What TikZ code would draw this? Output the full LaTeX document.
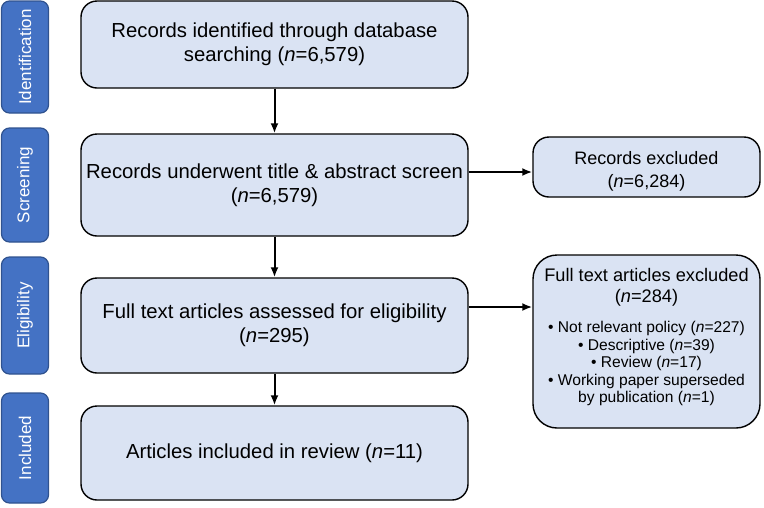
\documentclass[tikz,border=0pt]{standalone}
\usepackage{fontspec}
\setmainfont{Liberation Sans}
\usetikzlibrary{arrows.meta}
\definecolor{boxfill}{HTML}{DAE3F3}
\definecolor{stagefill}{HTML}{4472C4}
\definecolor{stageline}{HTML}{2F528F}
\tikzstyle{stage}=[draw=stageline, line width=1.2pt, fill=stagefill, text=white, rounded corners=8pt, rotate=90, minimum height=47pt, inner sep=0pt, font=\fontsize{17}{20}\selectfont]
\tikzstyle{record}=[draw, line width=1.4pt, fill=boxfill, rounded corners=16pt, minimum width=387pt, align=center, inner sep=0pt, font=\fontsize{20.3}{24}\selectfont]
\tikzstyle{excluded}=[draw, line width=1.4pt, fill=boxfill, rounded corners=16pt, align=center, inner sep=0pt]
\tikzstyle{flow}=[-{Latex[length=10pt,width=8pt]}, line width=2pt]
\newcommand{\bul}{\fontsize{15.6}{17.5}\selectfont\textbullet\ }

\begin{document}
\begin{tikzpicture}[x=1pt, y=-1pt]
    \useasboundingbox (0,0) rectangle (764,507);

    % Stages
    \draw (25,57) node[stage, minimum width=112pt] (ident) {Identification};
    \draw (25,185) node[stage, minimum width=114pt] (screen) {Screening};
    \draw (25,315.5) node[stage, minimum width=117pt] (elig) {Eligibility};
    \draw (25,448) node[stage, minimum width=110pt] (incl) {Included};

    % Records
    \draw (274.5,44.5) node[record, minimum height=87pt] (found) {Records identified through database\\searching (\textit{n}=6,579)};
    \draw (274.5,185) node[record, minimum height=102pt] (title) {Records underwent title \& abstract screen\\(\textit{n}=6,579)};
    \draw (274.5,325.5) node[record, minimum height=95pt] (full) {Full text articles assessed for eligibility\\(\textit{n}=295)};
    \draw (274.5,453) node[record, minimum height=94pt] (final) {Articles included in review (\textit{n}=11)};

    % Exclusions
    \draw (646.5,167) node[excluded, minimum width=227pt, minimum height=60pt, font=\fontsize{18}{23}\selectfont] (out1) {\rule{0pt}{21pt}Records excluded\\(\textit{n}=6,284)};
    \draw (646.5,341.5) node[excluded, rounded corners=24pt, minimum width=227pt, minimum height=173pt, font=\fontsize{18.2}{21}\selectfont] (out2) {Full text articles excluded\\(\textit{n}=284)\\[9pt]
      \bul Not relevant policy (\textit{n}=227)\\[-3.5pt]
      \bul Descriptive (\textit{n}=39)\\[-3.5pt]
      \bul Review (\textit{n}=17)\\[-3.5pt]
      \bul Working paper superseded\\[-3.5pt]
      \fontsize{15.6}{17.5}\selectfont by publication (\textit{n}=1)\rule[-12pt]{0pt}{1pt}};
    \coordinate (tap1) at (0,172);
    \coordinate (tap2) at (0,307);

    % Arrows
    \draw[flow] (found) -- (title);
    \draw[flow] (title) -- (full);
    \draw[flow] (full) -- (final);
    \draw[flow] (title.east |- tap1) -- (out1.west |- tap1);
    \draw[flow] (full.east |- tap2) -- (out2.west |- tap2);
\end{tikzpicture}
\end{document}
